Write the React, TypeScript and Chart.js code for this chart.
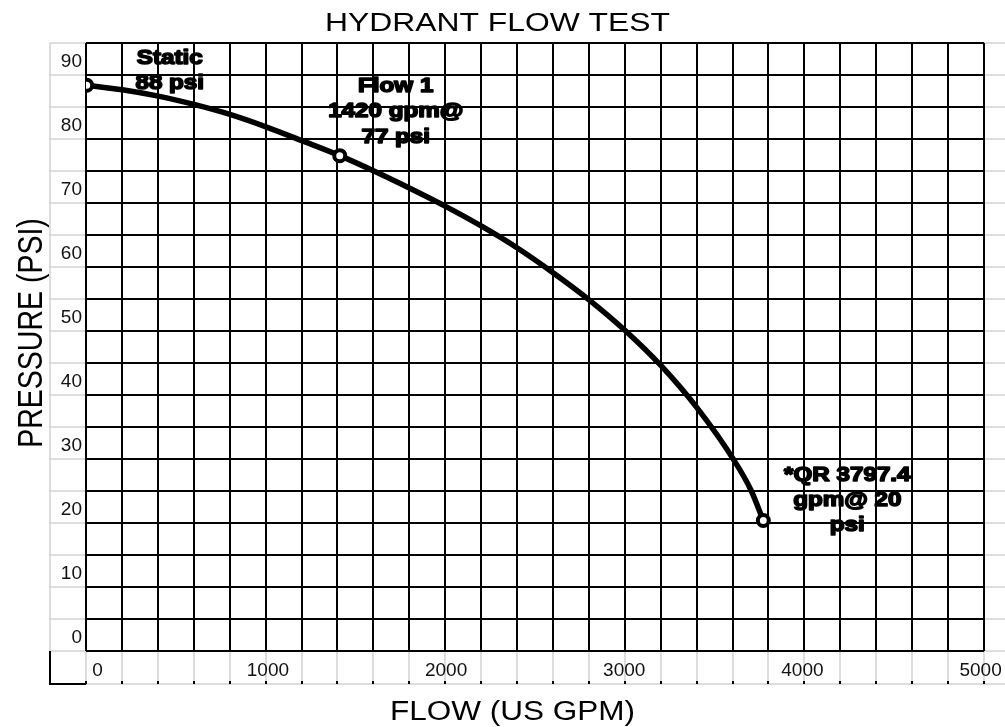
import React, { useEffect, useRef } from 'react';
import { Chart, registerables } from 'chart.js';

Chart.register(...registerables);

// ---- texts ----
const chartTitle = 'HYDRANT FLOW TEST';
const xAxisTitle = 'FLOW (US GPM)';
const yAxisTitle = 'PRESSURE (PSI)';

// ---- test points (marked) ----
const testFlow = [0, 1420, 3797.4];
const testPressure = [88, 77, 20];
const testLabels = [
  ['Static', '88 psi'],
  ['Flow 1', '1420 gpm@', '77 psi'],
  ['*QR 3797.4', 'gpm@ 20', 'psi'],
];

// ---- curve ----
const curveFlow = [0, 200, 402, 602, 808, 1006, 1211, 1420, 1612, 1762, 2019, 2221, 2421, 2623, 2823, 3025, 3226, 3428, 3633, 3727, 3797.4];
const curvePressure = [88, 87.3, 86.3, 85.0, 83.4, 81.5, 79.3, 77, 74.6, 72.6, 69.0, 65.9, 62.5, 58.6, 54.4, 49.6, 44.1, 37.5, 29.4, 24.8, 20];

// ---- axes ----
const xTickValues = [0, 1000, 2000, 3000, 4000, 5000];
const xTickLabels = ['0', '1000', '2000', '3000', '4000', '5000'];
const yTickLabels = ['0', '10', '20', '30', '40', '50', '60', '70', '80', '90'];
const xMin = -4;
const xMax = 5036;
const xGridStep = 201.6;
const yMin = -0.4;
const yMax = 94.6;
const yGridStep = 5;

const xGrid: number[] = [];
for (let k = 0; k <= 25; k++) xGrid.push(xMin + k * xGridStep);
const yGrid: number[] = [];
for (let k = 0; k <= 19; k++) yGrid.push(yMin + k * yGridStep);

const FONT = '"Liberation Sans", Arial, sans-serif';

function drawStretched(ctx: CanvasRenderingContext2D, text: string, cx: number, baseline: number, font: string, sx: number, heavy = 0) {
  ctx.save();
  ctx.font = font;
  ctx.textAlign = 'center';
  ctx.textBaseline = 'alphabetic';
  ctx.translate(cx, baseline);
  ctx.scale(sx, 1);
  ctx.fillStyle = '#000';
  ctx.fillText(text, 0, 0);
  if (heavy > 0) {
    ctx.strokeStyle = '#000';
    ctx.lineJoin = 'round';
    ctx.lineWidth = heavy;
    ctx.strokeText(text, 0, 0);
  }
  ctx.restore();
}

const sheetPlugin = {
  id: 'sheet',
  beforeDraw(chart: any) {
    const { ctx, chartArea: a, scales } = chart;
    const xs = scales.x;
    const ys = scales.y;
    const W = chart.width;
    const colLeft = a.left - 36;
    const rowBottom = a.bottom + 33;
    ctx.save();
    ctx.strokeStyle = '#d2d2d2';
    ctx.lineWidth = 1.5;
    ctx.beginPath();
    ctx.moveTo(colLeft, a.top);
    ctx.lineTo(colLeft, a.bottom);
    ys.ticks.forEach((t: any) => {
      const y = Math.round(ys.getPixelForValue(t.value));
      ctx.moveTo(colLeft, y);
      ctx.lineTo(a.left, y);
      ctx.moveTo(a.right, y);
      ctx.lineTo(W, y);
    });
    xs.ticks.forEach((t: any) => {
      const x = Math.round(xs.getPixelForValue(t.value));
      ctx.moveTo(x, a.bottom);
      ctx.lineTo(x, rowBottom);
    });
    ctx.moveTo(a.left, rowBottom);
    ctx.lineTo(W, rowBottom);
    ctx.stroke();
    ctx.fillStyle = '#000';
    xs.ticks.forEach((t: any) => {
      const x = Math.round(xs.getPixelForValue(t.value));
      ctx.fillRect(x - 1, rowBottom - 3, 2, 3);
    });
    ctx.strokeStyle = '#000';
    ctx.lineWidth = 2;
    ctx.beginPath();
    ctx.moveTo(colLeft, a.bottom);
    ctx.lineTo(colLeft, rowBottom + 1);
    ctx.moveTo(colLeft - 1, rowBottom);
    ctx.lineTo(a.left, rowBottom);
    ctx.stroke();
    ctx.restore();
  },
};

const textPlugin = {
  id: 'texts',
  afterDraw(chart: any) {
    const { ctx, scales } = chart;
    const xs = scales.x;
    const ys = scales.y;
    ctx.save();
    ctx.font = `25px ${FONT}`;
    const tw = ctx.measureText(chartTitle).width;
    ctx.font = `27px ${FONT}`;
    const xw = ctx.measureText(xAxisTitle).width;
    ctx.restore();
    drawStretched(ctx, chartTitle, 497.5, 30.5, `25px ${FONT}`, 345 / tw);
    drawStretched(ctx, xAxisTitle, 512.5, 720, `27px ${FONT}`, 245 / xw);
    ctx.save();
    ctx.font = `28.5px ${FONT}`;
    ctx.textAlign = 'center';
    ctx.textBaseline = 'alphabetic';
    ctx.fillStyle = '#000';
    ctx.translate(28.8, 333);
    ctx.scale(1.26, 1);
    ctx.rotate(-Math.PI / 2);
    ctx.fillText(yAxisTitle, 0, 10.2);
    ctx.restore();
    const offsets = [
      { dx: 83, dy: -21.7, lh: 25.7 },
      { dx: 56, dy: -63.7, lh: 25.4 },
      { dx: 84, dy: -39, lh: 25 },
    ];
    testLabels.forEach((lines, i) => {
      const px = xs.getPixelForValue(testFlow[i]);
      const py = ys.getPixelForValue(testPressure[i]);
      const o = offsets[i];
      lines.forEach((line, j) => {
        drawStretched(ctx, line, px + o.dx, py + o.dy + j * o.lh, `bold 20.5px ${FONT}`, 1.18, 1.6);
      });
    });
  },
};

export default function App() {
  const ref = useRef<HTMLCanvasElement>(null);
  useEffect(() => {
    document.body.style.margin = '0';
    const zeroPad = (s: any) => {
      s.paddingLeft = 0;
      s.paddingRight = 0;
      s.paddingTop = 0;
      s.paddingBottom = 0;
    };
    const chart = new Chart(ref.current as HTMLCanvasElement, {
      type: 'scatter',
      data: {
        datasets: [
          {
            label: 'Test points',
            data: testFlow.map((x, i) => ({ x, y: testPressure[i] })),
            showLine: false,
            pointRadius: 5.5,
            pointBorderWidth: 4,
            pointBackgroundColor: '#fff',
            pointBorderColor: '#000',
            order: 0,
          },
          {
            label: 'Curve',
            data: curveFlow.map((x, i) => ({ x, y: curvePressure[i] })),
            showLine: true,
            borderColor: '#000',
            borderWidth: 5.5,
            pointRadius: 0,
            cubicInterpolationMode: 'monotone',
            order: 1,
          },
        ],
      },
      options: {
        responsive: false,
        animation: false,
        events: [],
        layout: { padding: { left: 50, right: 21, top: 43, bottom: 43 } },
        plugins: {
          legend: { display: false },
          tooltip: { enabled: false },
          title: { display: false },
        },
        scales: {
          x: {
            type: 'linear',
            axis: 'x',
            position: 'bottom',
            min: xMin,
            max: xMax,
            afterBuildTicks: (s: any) => {
              s.ticks = xGrid.map((v) => ({ value: v }));
            },
            afterFit: (s: any) => {
              s.height = 0;
              zeroPad(s);
            },
            ticks: { display: false },
            grid: { color: '#000', lineWidth: 2, drawTicks: false },
            border: { display: false },
          },
          xl: {
            type: 'linear',
            axis: 'x',
            position: 'bottom',
            display: true,
            min: xMin,
            max: xMax,
            afterBuildTicks: (s: any) => {
              s.ticks = xTickValues.map((v) => ({ value: v }));
            },
            afterFit: (s: any) => {
              s.height = 33;
              zeroPad(s);
            },
            ticks: {
              display: true,
              autoSkip: false,
              maxRotation: 0,
              minRotation: 0,
              padding: 8,
              labelOffset: 3,
              color: '#111',
              font: { family: FONT, size: 19 },
              callback: (_v: any, i: number) => (i === 0 ? '   ' + xTickLabels[0] : xTickLabels[i]),
            },
            grid: { display: false, drawTicks: false },
            border: { display: false },
          },
          y: {
            type: 'linear',
            position: 'left',
            min: yMin,
            max: yMax,
            afterBuildTicks: (s: any) => {
              s.ticks = yGrid.map((v) => ({ value: v }));
            },
            afterFit: (s: any) => {
              s.width = 36;
              zeroPad(s);
            },
            ticks: {
              autoSkip: false,
              padding: 4,
              labelOffset: -13,
              color: '#111',
              font: { family: FONT, size: 19 },
              callback: (_v: any, i: number) => (i % 2 === 0 ? yTickLabels[i / 2] : ''),
            },
            grid: { color: '#000', lineWidth: 2, drawTicks: false },
            border: { display: false },
          },
        },
      } as any,
      plugins: [sheetPlugin, textPlugin],
    });
    return () => chart.destroy();
  }, []);
  return (
    <div style={{ position: 'fixed', left: 0, top: 0, width: 1005, height: 727, background: '#fff' }}>
      <canvas ref={ref} width={1005} height={727} style={{ display: 'block' }} />
    </div>
  );
}
